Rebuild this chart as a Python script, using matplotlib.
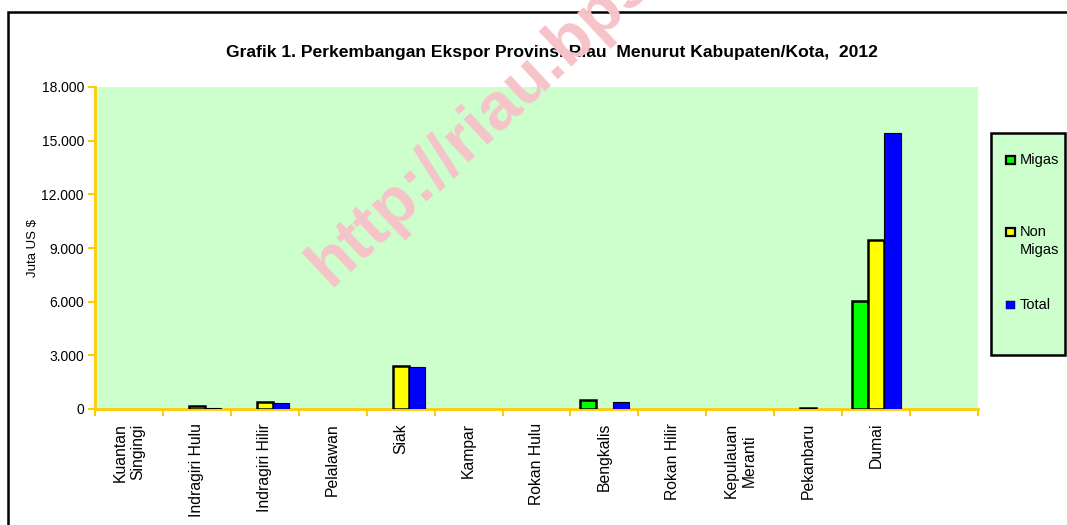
import numpy as np
import matplotlib
matplotlib.use("Agg")
import matplotlib.pyplot as plt
from matplotlib.patches import Rectangle
from matplotlib.ticker import FuncFormatter

plt.rcParams["font.family"] = ["Liberation Sans", "DejaVu Sans"]

# ---- data (Juta US $) ----
kabupaten = ["Kuantan\nSingingi", "Indragiri Hulu", "Indragiri Hilir", "Pelalawan", "Siak",
             "Kampar", "Rokan Hulu", "Bengkalis", "Rokan Hilir", "Kepulauan\nMeranti",
             "Pekanbaru", "Dumai", ""]
migas = [0, 0, 0, 0, 0, 0, 0, 500, 0, 0, 0, 6040, 0]
non_migas = [0, 145, 410, 0, 2420, 0, 0, 0, 0, 0, 50, 9450, 0]
total = [0, 50, 310, 0, 2330, 0, 0, 410, 0, 0, 0, 15430, 0]
yticks = [0, 3000, 6000, 9000, 12000, 15000, 18000]

W, H = 1067, 525
GOLD = "#FFCC00"
BG = "#CCFFCC"

fig = plt.figure(figsize=(W / 100, H / 100), dpi=100)
ax = fig.add_axes([95 / W, 1 - 409 / H, (978 - 95) / W, (409 - 87) / H])
ax.set_facecolor(BG)

x = np.arange(len(kabupaten)) + 0.5
bw = 0.24
series = [(migas, -bw, "#00FF00", 1.8), (non_migas, 0, "#FFFF00", 1.8), (total, bw, "#0000FF", 0.8)]
for vals, off, col, lw in series:
    v = np.array(vals, dtype=float)
    m = v > 0
    ax.bar(x[m] + off, v[m], width=bw, color=col, edgecolor="black", linewidth=lw, zorder=3)

ax.set_xlim(0, len(kabupaten))
ax.set_ylim(0, 18000)
ax.set_yticks(yticks)
ax.yaxis.set_major_formatter(FuncFormatter(lambda v, p: "0" if v == 0 else f"{int(v):,}".replace(",", ".")))
ax.set_xticks(np.arange(len(kabupaten) + 1))
ax.set_xticklabels([])
ax.set_xticks(x, minor=True)
ax.set_xticklabels(kabupaten, minor=True, rotation=90, va="top", ha="center", fontsize=11.3)
ax.tick_params(axis="x", which="minor", length=0, pad=10)
ax.tick_params(axis="both", which="major", color=GOLD, width=1.5, length=5, direction="out")
ax.tick_params(axis="y", labelsize=10, pad=3)
for s in ["top", "right"]:
    ax.spines[s].set_visible(False)
for s in ["left", "bottom"]:
    ax.spines[s].set_color(GOLD)
    ax.spines[s].set_linewidth(2)
ax.set_ylabel("Juta US $", fontsize=9.5, labelpad=2)

fig.text(552 / W, 1 - 52 / H, "Grafik 1. Perkembangan Ekspor Provinsi Riau  Menurut Kabupaten/Kota,  2012",
         ha="center", va="center", fontsize=12.6, fontweight="bold")

# outer frame
fig.add_artist(Rectangle((8 / W, -0.1), 1.2, 1 - 12 / H + 0.1, transform=fig.transFigure,
                         fill=False, edgecolor="black", linewidth=1.8, clip_on=False))

# legend box
fig.add_artist(Rectangle((991 / W, 1 - 355 / H), (1065 - 991) / W, (355 - 133) / H,
                         transform=fig.transFigure, facecolor=BG, edgecolor="black", linewidth=1.8))
leg = [("Migas", "#00FF00", 1.6, 160), ("Non\nMigas", "#FFFF00", 1.6, 232), ("Total", "#0000FF", 0.3, 305)]
for lab, col, lw, yy in leg:
    fig.add_artist(Rectangle((1006 / W, 1 - (yy + 4) / H), 9 / W, 8 / H, transform=fig.transFigure,
                             facecolor=col, edgecolor="black", linewidth=lw))
    fig.text(1020 / W, 1 - (yy - 7) / H, lab, ha="left", va="top", fontsize=10.5, linespacing=1.4)

# watermark
fig.text(330 / W, 1 - 288 / H, "http://riau.bps.go.id", rotation=43, rotation_mode="anchor",
         ha="left", va="baseline", fontsize=48, fontweight="bold", color="#F6C4C8")

fig.savefig("out.png", dpi=100)
